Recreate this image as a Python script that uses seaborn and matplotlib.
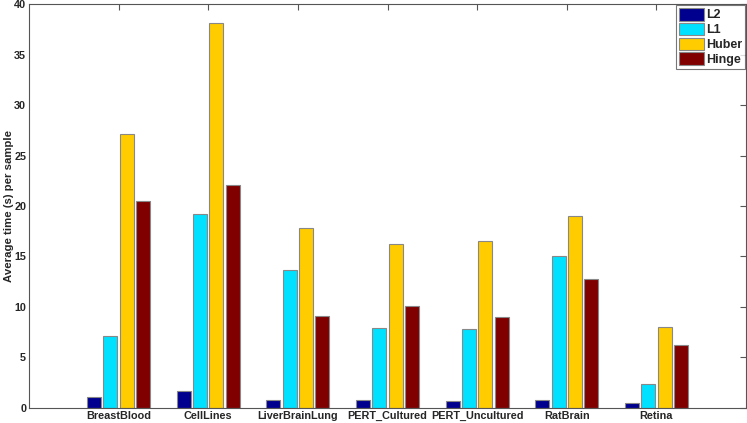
import pandas as pd
import seaborn as sns
import matplotlib.pyplot as plt

datasets = ['BreastBlood', 'CellLines', 'LiverBrainLung', 'PERT_Cultured',
            'PERT_Uncultured', 'RatBrain', 'Retina']
losses = ['L2', 'L1', 'Huber', 'Hinge']
l2 = [1.1, 1.7, 0.8, 0.75, 0.7, 0.8, 0.45]
l1 = [7.1, 19.2, 13.7, 7.9, 7.85, 15.0, 2.35]
huber = [27.1, 38.1, 17.8, 16.2, 16.5, 19.0, 8.0]
hinge = [20.5, 22.1, 9.1, 10.1, 9.0, 12.8, 6.2]
colors = ['#00008F', '#00E0FF', '#FFCC00', '#800000']

rows = []
for name, vals in zip(losses, [l2, l1, huber, hinge]):
    for d, v in zip(datasets, vals):
        rows.append({'dataset': d, 'loss': name, 'time': v})
df = pd.DataFrame(rows)

sns.set_style('white')
plt.rcParams['font.family'] = ['Liberation Sans', 'DejaVu Sans']
plt.rcParams['font.weight'] = 'bold'

fig = plt.figure(figsize=(7.47, 4.23), dpi=100)
ax = fig.add_axes([0.0388, 0.0355, 0.9599, 0.955])

sns.barplot(data=df, x='dataset', y='time', hue='loss', order=datasets,
            hue_order=losses, palette=colors, width=0.73, gap=0.15,
            edgecolor='#888888', linewidth=0.8, saturation=1, ax=ax)

ax.set_xlim(-1, 7)
ax.set_ylim(0, 40)
ax.set_yticks(range(0, 41, 5))
ax.set_xlabel('')
ax.set_ylabel('Average time (s) per sample', fontsize=8.2, fontweight='bold')
ax.yaxis.set_label_coords(-0.0215, 0.5)
ax.tick_params(axis='both', labelsize=7.8, direction='in', length=4, color='#555555',
               top=True, right=True, pad=2)
for lab in ax.get_xticklabels() + ax.get_yticklabels():
    lab.set_fontweight('bold')
for s in ax.spines.values():
    s.set_color('#555555')
    s.set_linewidth(0.8)

leg = ax.legend(loc='upper right', fontsize=9, frameon=True, fancybox=False,
                handlelength=2.0, handleheight=1.2, handletextpad=0.2,
                borderpad=0.2, labelspacing=0.1, borderaxespad=0.1)
leg.get_frame().set_edgecolor('#555555')
leg.get_frame().set_linewidth(0.8)
for t in leg.get_texts():
    t.set_fontweight('bold')

fig.savefig('out.png', dpi=100)
